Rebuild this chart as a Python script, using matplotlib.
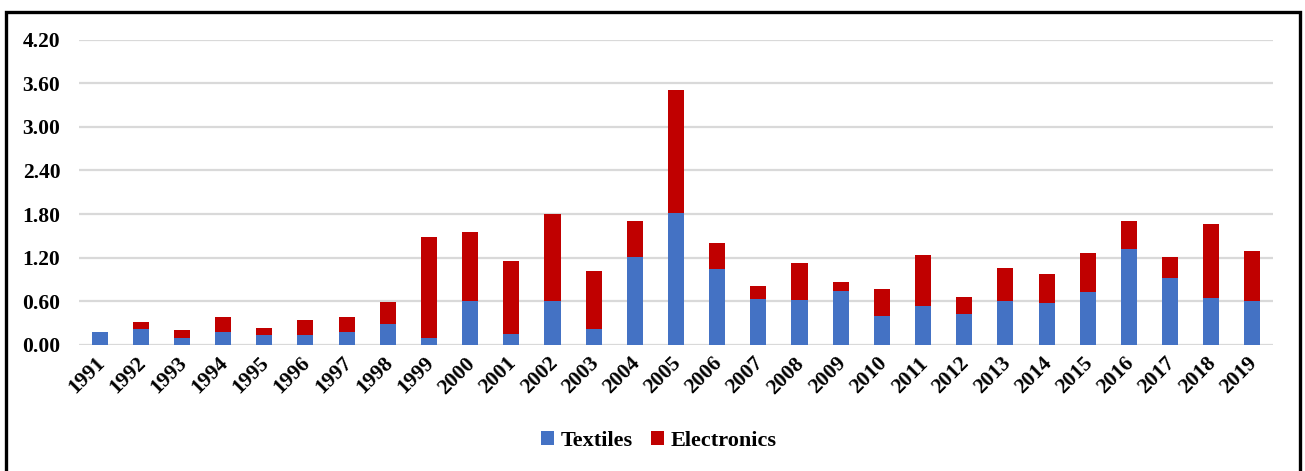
import matplotlib
matplotlib.use("Agg")
import matplotlib.pyplot as plt
import matplotlib.transforms as mtransforms
from matplotlib.patches import Rectangle
import numpy as np

# data
years = [str(y) for y in range(1991, 2020)]
textiles = [0.18, 0.22, 0.10, 0.18, 0.14, 0.14, 0.18, 0.29, 0.09, 0.60,
            0.15, 0.60, 0.22, 1.21, 1.81, 1.05, 0.63, 0.62, 0.74, 0.40,
            0.54, 0.43, 0.61, 0.58, 0.73, 1.32, 0.92, 0.65, 0.60]
electronics = [0.00, 0.10, 0.10, 0.21, 0.10, 0.20, 0.21, 0.30, 1.40, 0.95,
               1.01, 1.20, 0.80, 0.50, 1.70, 0.35, 0.18, 0.51, 0.12, 0.37,
               0.70, 0.23, 0.45, 0.40, 0.53, 0.38, 0.29, 1.02, 0.69]
yticks = [0.0, 0.6, 1.2, 1.8, 2.4, 3.0, 3.6, 4.2]

plt.rcParams['font.family'] = ['Liberation Serif', 'DejaVu Serif']
plt.rcParams['font.weight'] = 'bold'

W, H = 1305, 471
fig = plt.figure(figsize=(W / 100, H / 100), dpi=100)
ax = fig.add_axes([79 / W, 1 - 345 / H, (1273 - 79) / W, (345 - 39.5) / H])

x = np.arange(len(years))
ax.bar(x, textiles, width=0.39, color='#4472C4', linewidth=0,
       label='Textiles', zorder=3)
ax.bar(x, electronics, width=0.39, bottom=textiles, color='#C00000',
       linewidth=0, label='Electronics', zorder=3)

ax.set_xlim(-0.5, len(years) - 0.5)
ax.set_ylim(0, 4.2)
ax.set_yticks(yticks)
ax.set_yticklabels([f"{v:.2f}" for v in yticks], fontsize=15.5, fontweight='bold')
ax.set_xticks(x)
ax.set_xticklabels(years, rotation=45, ha='right', rotation_mode='anchor',
                   fontsize=15.5, fontweight='bold')
ax.tick_params(axis='y', length=0, pad=13.5)
ax.tick_params(axis='x', length=0, pad=6)
shift = mtransforms.ScaledTranslation(-5 / 100, 0, fig.dpi_scale_trans)
for lab in ax.get_xticklabels():
    lab.set_transform(lab.get_transform() + shift)
ax.grid(axis='y', color='#D9D9D9', linewidth=1.6, zorder=0)
for s in ax.spines.values():
    s.set_visible(False)

ax.legend(loc='center', bbox_to_anchor=(659 / W, 1 - 441 / H),
          bbox_transform=fig.transFigure, ncol=2, frameon=False,
          prop={'size': 16, 'weight': 'bold'}, handlelength=0.6,
          handleheight=0.6, handletextpad=0.3, columnspacing=0.8)

# outer black frame
fig.patches.append(Rectangle((6 / W, -0.05), (1300 - 6) / W, 1.05 - 12 / H,
                             transform=fig.transFigure, fill=False,
                             edgecolor='black', linewidth=2.4))

fig.savefig("out.png", dpi=100)
